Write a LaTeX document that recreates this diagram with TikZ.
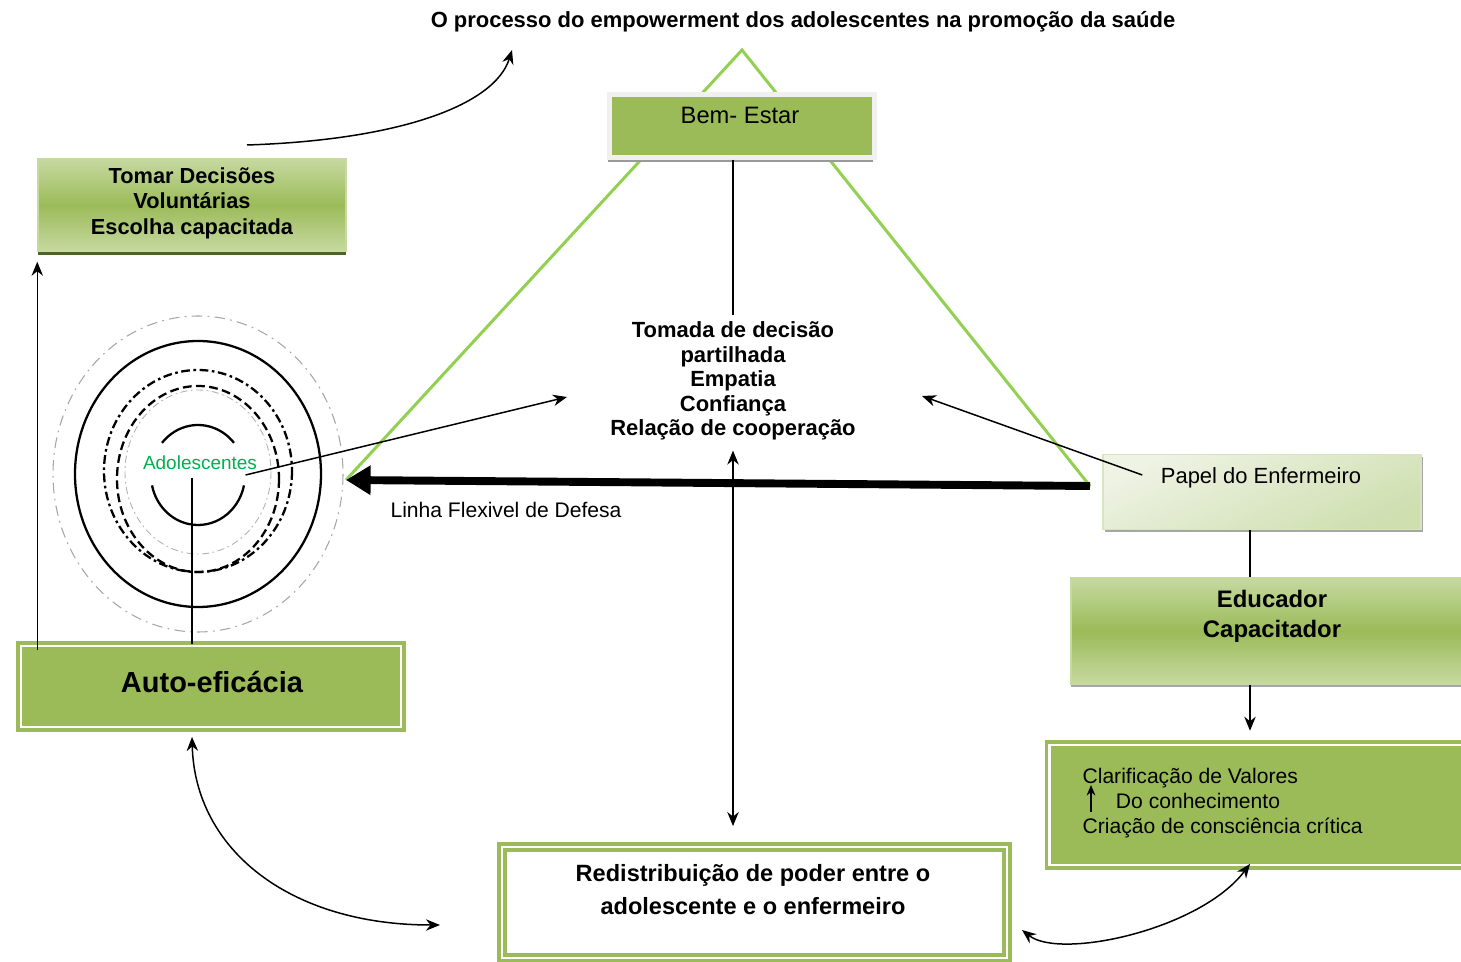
\documentclass[tikz,border=0pt]{standalone}
\usepackage{fontspec}
\setmainfont{Liberation Sans}
\usepackage{tikz}
\usetikzlibrary{arrows.meta, positioning, calc, shadows}
\definecolor{ogreen}{HTML}{9BBB59}
\definecolor{olight}{HTML}{C6D9A0}
\definecolor{opale}{HTML}{CFDFB0}
\definecolor{opaler}{HTML}{EEF3E4}
\definecolor{trigreen}{HTML}{92D050}
\definecolor{adolgreen}{HTML}{00B050}
\definecolor{odark}{HTML}{4F6228}
\tikzset{>={Stealth[length=8pt,width=6.5pt]}}

\begin{document}
\begin{tikzpicture}[x=0.02cm, y=-0.02cm, line width=0.85pt,
  txt/.style={font=\fontsize{12.5}{14}\selectfont, align=center},
  gradbox/.style={inner sep=0pt, draw=olight, top color=olight, bottom color=olight, middle color=ogreen},
  dblbox/.style={inner sep=0pt, draw=ogreen, double=white, double distance=1.3pt, line width=2.2pt},
  ring/.style={line width=1.3pt}]
\clip (0,0) rectangle (1461,962);

\coordinate (tA) at (742,50);
\coordinate (tL) at (346,480);
\coordinate (tR) at (1090,486);
\draw[trigreen, line width=1.7pt] (tL) -- (tA) -- (tR);

\node[font=\fontsize{12.5}{15}\selectfont\bfseries] (titulo) at (803,22) {O processo do empowerment dos adolescentes na promoção da saúde};

\node[fill=ogreen, draw=black!6, line width=2.5pt, inner sep=0pt, minimum width=5.3cm, minimum height=1.26cm,
  drop shadow={shadow xshift=-1pt, shadow yshift=-2.5pt, fill=black!40, opacity=1}] (bem) at (742,126) {};
\node[font=\fontsize{13.5}{16}\selectfont] (bemt) at (740,115) {Bem- Estar};

\node[txt, font=\fontsize{12.5}{14}\selectfont\bfseries] (centro) at (733,381) {Tomada de decisão\\partilhada\\Empatia\\Confiança\\Relação de cooperação};
\draw (bem.south -| centro) -- (centro.north);

\coordinate (ad) at (198,474);
\draw[gray!70, line width=0.6pt, dash pattern=on 6pt off 3pt on 1pt off 3pt] (ad) ellipse [x radius=145, y radius=158];
\draw[ring] (ad) ellipse [x radius=123, y radius=133];
\draw[ring, dash pattern=on 5pt off 2pt on 1.5pt off 2pt] ($(ad)+(0,-3)$) ellipse [x radius=94, y radius=101];
\draw[ring, dash pattern=on 5pt off 2.5pt] ($(ad)+(0,5)$) ellipse [x radius=81, y radius=93];
\draw[gray!60, line width=0.5pt, dash pattern=on 4pt off 2pt on 1pt off 2pt] ($(ad)+(0,-2)$) ellipse [x radius=73, y radius=82];
\draw[ring] (198,475) ++(-40:47 and 50) arc[start angle=-40, end angle=-140, x radius=47, y radius=50];
\draw[ring] (198,475) ++(12:47 and 50) arc[start angle=12, end angle=168, x radius=47, y radius=50];
\node[font=\fontsize{10.8}{12}\selectfont, text=adolgreen] (adol) at (200,463) {Adolescentes};

\node[gradbox, minimum width=6.16cm, minimum height=1.84cm,
  drop shadow={shadow xshift=0pt, shadow yshift=-2pt, fill=odark, opacity=1}] (tomar) at (192,205) {};
\node[txt, font=\fontsize{12.4}{14.5}\selectfont\bfseries] (tomart) at (192,203) {Tomar Decisões\\Voluntárias\\Escolha capacitada};

\node[dblbox, fill=ogreen, minimum width=7.6cm, minimum height=1.62cm] (auto) at (211,686.5) {};
\node[font=\fontsize{16.5}{20}\selectfont\bfseries] (autot) at (212,682) {Auto-eficácia};

\node[dblbox, fill=white, minimum width=10.1cm, minimum height=2.22cm] (redis) at (754.5,902.5) {};
\node[txt, font=\fontsize{13.4}{18.7}\selectfont\bfseries] (redist) at (753,890) {Redistribuição de poder entre o\\adolescente e o enfermeiro};

\node[inner sep=0pt, draw=olight!70, top color=opaler, bottom color=opale, shading angle=25, minimum width=6.36cm, minimum height=1.5cm,
  drop shadow={shadow xshift=1pt, shadow yshift=-1.5pt, fill=black!35, opacity=1}] (papel) at (1262,492) {};
\node[txt] (papelt) at (1261,478) {Papel do Enfermeiro};

\node[gradbox, minimum width=8cm, minimum height=2.12cm,
  drop shadow={shadow xshift=0pt, shadow yshift=-1.5pt, fill=black!35, opacity=1}] (educ) at (1271,631) {};
\node[txt, font=\fontsize{13.6}{17}\selectfont\bfseries] (educt) at (1272,616) {Educador\\Capacitador};

\node[dblbox, fill=ogreen, minimum width=8.5cm, minimum height=2.4cm] (clar) at (1262,805) {};
\node[font=\fontsize{12}{14.2}\selectfont, align=left, anchor=west] (clart) at (1076,803) {Clarificação de Valores\\\hspace*{19pt}Do conhecimento\\Criação de consciência crítica};
\coordinate (cv1) at (1091,812);
\coordinate (cv2) at (1091,785);
\draw[-{Stealth[length=6pt,width=5pt]}, line width=0.8pt] (cv1) -- (cv2);

\node[font=\fontsize{12}{14}\selectfont] (linha) at (506,510) {Linha Flexivel de Defesa};
\draw[line width=4.5pt, -{Triangle[length=14pt,width=16pt]}] (tR) -- (tL);

\coordinate (stem) at (192,478);
\draw (stem) -- (stem |- auto.north);

\coordinate (c1) at (567,397);
\coordinate (c2) at (922,396);
\draw[->] ($(adol.east)+(-18,12)$) -- (c1);
\draw[->] ($(papelt.west)+(-12,-3)$) -- (c2);
\draw[<->, shorten <=2pt, shorten >=10.8pt] (centro.south) -- (centro.south |- redis.north);

\draw[->] ($(auto.north -| tomar.west)+(0,6)$) -- ($(tomar.south west)+(0,10)$);

\draw ($(papel.south)+(-12,0)$) coordinate (pe1) -- (pe1 |- educ.north);
\draw[->, shorten >=7pt] (pe1 |- educ.south) -- (pe1 |- clar.north);

\coordinate (k1) at (247,145);
\coordinate (k2) at (512,50);
\draw[->] (k1) .. controls (400,140) and (495,105) .. (k2);

\coordinate (c3) at (440,925);
\draw[<->] ($(auto.south -| stem)+(0,8)$) .. controls (195,850) and (290,925) .. (c3);

\coordinate (c4) at (1022,930);
\draw[<->] (c4) .. controls (1060,960) and (1200,930) .. ($(clar.south -| pe1)+(0,-3)$);
\end{tikzpicture}
\end{document}
